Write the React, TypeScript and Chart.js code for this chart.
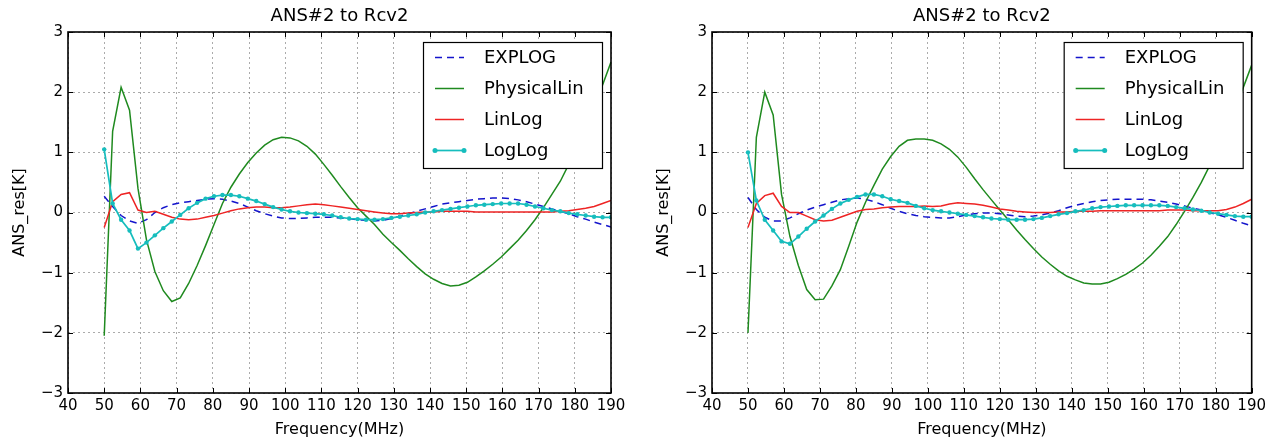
import React, { useEffect, useRef } from "react";
import { Chart, registerables } from "chart.js";

Chart.register(...registerables);

const TITLE = "ANS#2 to Rcv2";
const X_LABEL = "Frequency(MHz)";
const Y_LABEL = "ANS_res[K]";
const SERIES_NAMES = ["EXPLOG", "PhysicalLin", "LinLog", "LogLog"];

const FREQ = [
  50, 52.33, 54.67, 57, 59.33, 61.67, 64, 66.33, 68.67, 71, 73.33, 75.67, 78, 80.33, 82.67, 85, 87.33, 89.67, 92, 94.33,
  96.67, 99, 101.33, 103.67, 106, 108.33, 110.67, 113, 115.33, 117.67, 120, 122.33, 124.67, 127, 129.33, 131.67, 134,
  136.33, 138.67, 141, 143.33, 145.67, 148, 150.33, 152.67, 155, 157.33, 159.67, 162, 164.33, 166.67, 169, 171.33,
  173.67, 176, 178.33, 180.67, 183, 185.33, 187.67, 190,
];

// Left panel
const L_EXPLOG = [
  0.27, 0.1, -0.05, -0.14, -0.18, -0.12, 0.0, 0.08, 0.13, 0.16, 0.18, 0.2, 0.22, 0.23, 0.22, 0.19, 0.15, 0.09, 0.03,
  -0.02, -0.06, -0.09, -0.1, -0.1, -0.09, -0.08, -0.08, -0.08, -0.09, -0.1, -0.12, -0.13, -0.14, -0.13, -0.1, -0.06,
  -0.02, 0.02, 0.06, 0.1, 0.14, 0.16, 0.18, 0.2, 0.22, 0.23, 0.24, 0.24, 0.23, 0.21, 0.18, 0.14, 0.1, 0.06, 0.02,
  -0.02, -0.07, -0.11, -0.16, -0.2, -0.24,
];
const L_PHYSLIN = [
  -2.05, 1.35, 2.08, 1.7, 0.4, -0.45, -0.98, -1.3, -1.48, -1.42, -1.18, -0.88, -0.55, -0.2, 0.15, 0.42, 0.64, 0.83,
  0.99, 1.12, 1.21, 1.25, 1.24, 1.19, 1.1, 0.97, 0.8, 0.62, 0.43, 0.25, 0.08, -0.06, -0.2, -0.36, -0.5, -0.63, -0.77,
  -0.9, -1.02, -1.11, -1.18, -1.22, -1.21, -1.16, -1.07, -0.97, -0.86, -0.74, -0.6, -0.46, -0.3, -0.12, 0.08, 0.3,
  0.52, 0.8, 1.1, 1.42, 1.75, 2.12, 2.5,
];
const L_LINLOG = [
  -0.25, 0.18, 0.3, 0.33, 0.04, 0.0, 0.02, -0.03, -0.08, -0.11, -0.12, -0.11, -0.08, -0.05, -0.01, 0.03, 0.06, 0.08,
  0.09, 0.09, 0.08, 0.08, 0.09, 0.11, 0.13, 0.14, 0.13, 0.11, 0.09, 0.07, 0.05, 0.03, 0.01, -0.01, -0.02, -0.02,
  -0.01, 0.0, 0.01, 0.01, 0.02, 0.02, 0.02, 0.02, 0.01, 0.01, 0.01, 0.01, 0.01, 0.01, 0.01, 0.01, 0.01, 0.01, 0.02,
  0.03, 0.05, 0.07, 0.1, 0.15, 0.2,
];
const L_LOGLOG = [
  1.05, 0.15, -0.12, -0.3, -0.6, -0.5, -0.38, -0.26, -0.15, -0.04, 0.07, 0.16, 0.23, 0.27, 0.29, 0.29, 0.27, 0.23,
  0.19, 0.14, 0.09, 0.05, 0.02, 0.0, -0.01, -0.02, -0.03, -0.05, -0.08, -0.1, -0.11, -0.12, -0.12, -0.11, -0.09,
  -0.07, -0.05, -0.03, 0.0, 0.02, 0.04, 0.06, 0.08, 0.1, 0.12, 0.13, 0.14, 0.15, 0.15, 0.15, 0.13, 0.1, 0.07, 0.04,
  0.02, -0.01, -0.03, -0.05, -0.07, -0.08, -0.08,
];

// Right panel
const R_EXPLOG = [
  0.25, 0.05, -0.08, -0.14, -0.14, -0.09, -0.02, 0.04, 0.09, 0.13, 0.17, 0.21, 0.23, 0.24, 0.22, 0.18, 0.13, 0.07,
  0.02, -0.02, -0.05, -0.07, -0.08, -0.09, -0.09, -0.07, -0.04, -0.02, -0.01, -0.01, -0.02, -0.04, -0.06, -0.07,
  -0.06, -0.04, -0.01, 0.03, 0.08, 0.12, 0.15, 0.18, 0.2, 0.21, 0.22, 0.22, 0.22, 0.22, 0.21, 0.19, 0.17, 0.14, 0.11,
  0.07, 0.04, 0.0, -0.04, -0.08, -0.13, -0.18, -0.22,
];
const R_PHYSLIN = [
  -2.0, 1.25, 2.0, 1.62, 0.3, -0.4, -0.88, -1.28, -1.45, -1.44, -1.22, -0.95, -0.56, -0.16, 0.17, 0.45, 0.72, 0.93,
  1.1, 1.2, 1.22, 1.22, 1.2, 1.14, 1.05, 0.92, 0.75, 0.56, 0.38, 0.21, 0.04, -0.12, -0.29, -0.45, -0.6, -0.74, -0.86,
  -0.97, -1.06, -1.12, -1.17, -1.19, -1.19, -1.16, -1.1, -1.03, -0.94, -0.84, -0.71, -0.56, -0.4, -0.2, 0.02, 0.25,
  0.5, 0.78, 1.07, 1.38, 1.72, 2.08, 2.45,
];
const R_LINLOG = [
  -0.25, 0.15, 0.28, 0.32, 0.1, 0.0, 0.0, -0.06, -0.12, -0.14, -0.13, -0.08, -0.03, 0.02, 0.05, 0.06, 0.08, 0.09, 0.1,
  0.1, 0.1, 0.11, 0.1, 0.11, 0.14, 0.16, 0.15, 0.14, 0.12, 0.09, 0.06, 0.04, 0.02, 0.01, 0.0, 0.0, 0.0, 0.01, 0.01,
  0.02, 0.02, 0.02, 0.03, 0.03, 0.03, 0.03, 0.03, 0.03, 0.03, 0.03, 0.04, 0.04, 0.04, 0.03, 0.03, 0.03, 0.03, 0.05,
  0.09, 0.15, 0.22,
];
const R_LOGLOG = [
  1.0, 0.2, -0.12, -0.3, -0.48, -0.52, -0.4, -0.27, -0.15, -0.05, 0.06, 0.15, 0.21, 0.26, 0.3, 0.3, 0.27, 0.22, 0.19,
  0.16, 0.11, 0.07, 0.04, 0.02, 0.0, -0.02, -0.04, -0.06, -0.08, -0.1, -0.11, -0.12, -0.12, -0.12, -0.11, -0.09,
  -0.06, -0.03, -0.01, 0.02, 0.04, 0.07, 0.09, 0.1, 0.11, 0.12, 0.12, 0.12, 0.12, 0.12, 0.11, 0.09, 0.07, 0.05, 0.03,
  0.0, -0.02, -0.04, -0.06, -0.07, -0.07,
];

const X_TICKS = [40, 50, 60, 70, 80, 90, 100, 110, 120, 130, 140, 150, 160, 170, 180, 190];
const Y_TICKS = [-3, -2, -1, 0, 1, 2, 3];

const FONT = "'DejaVu Sans', sans-serif";

const framePlugin = {
  id: "mplFrame",
  afterDatasetsDraw(chart: any) {
    const ctx = chart.ctx;
    const { left, right, top, bottom } = chart.chartArea;
    const xs = chart.scales.x;
    const ys = chart.scales.y;
    ctx.save();
    // inward tick marks
    ctx.strokeStyle = "#000";
    ctx.lineWidth = 1;
    ctx.setLineDash([]);
    ctx.beginPath();
    X_TICKS.forEach((t) => {
      const px = Math.round(xs.getPixelForValue(t)) + 0.5;
      ctx.moveTo(px, bottom);
      ctx.lineTo(px, bottom - 5);
      ctx.moveTo(px, top);
      ctx.lineTo(px, top + 5);
    });
    Y_TICKS.forEach((t) => {
      const py = Math.round(ys.getPixelForValue(t)) + 0.5;
      ctx.moveTo(left, py);
      ctx.lineTo(left + 5, py);
      ctx.moveTo(right, py);
      ctx.lineTo(right - 5, py);
    });
    ctx.stroke();
    // frame
    ctx.lineWidth = 1.6;
    ctx.strokeRect(left, top, right - left, bottom - top);

    // legend
    const bw = 179;
    const bh = 126;
    const bx = right - 9 - bw;
    const by = top + 10;
    ctx.fillStyle = "#fff";
    ctx.fillRect(bx, by, bw, bh);
    ctx.lineWidth = 1.2;
    ctx.strokeStyle = "#000";
    ctx.strokeRect(bx + 0.5, by + 0.5, bw, bh);
    ctx.font = `18px ${FONT}`;
    ctx.textBaseline = "middle";
    ctx.textAlign = "left";
    chart.data.datasets.forEach((ds: any, k: number) => {
      const y = by + 15.5 + k * 31;
      ctx.strokeStyle = ds.borderColor;
      ctx.lineWidth = ds.borderWidth;
      ctx.setLineDash(ds.borderDash || []);
      ctx.beginPath();
      ctx.moveTo(bx + 12, y);
      ctx.lineTo(bx + 41, y);
      ctx.stroke();
      ctx.setLineDash([]);
      if (ds.pointRadius > 0) {
        ctx.fillStyle = ds.pointBackgroundColor;
        [bx + 12, bx + 41].forEach((px) => {
          ctx.beginPath();
          ctx.arc(px, y, ds.pointRadius + 0.3, 0, Math.PI * 2);
          ctx.fill();
        });
      }
      ctx.fillStyle = "#000";
      ctx.fillText(ds.label, bx + 61, y + 1);
    });
    ctx.restore();
  },
};

function makeDatasets(ex: number[], ph: number[], ll: number[], lg: number[]) {
  const pts = (arr: number[]) => FREQ.map((f, i) => ({ x: f, y: arr[i] }));
  return [
    {
      label: SERIES_NAMES[0],
      data: pts(ex),
      borderColor: "#1414cc",
      borderWidth: 1.5,
      borderDash: [7, 5],
      pointRadius: 0,
      tension: 0,
      order: 3,
    },
    {
      label: SERIES_NAMES[1],
      data: pts(ph),
      borderColor: "#1f8a1f",
      borderWidth: 1.5,
      pointRadius: 0,
      tension: 0,
      order: 2,
    },
    {
      label: SERIES_NAMES[2],
      data: pts(ll),
      borderColor: "#ee2424",
      borderWidth: 1.5,
      pointRadius: 0,
      tension: 0,
      order: 1,
    },
    {
      label: SERIES_NAMES[3],
      data: pts(lg),
      borderColor: "#16bdbd",
      borderWidth: 1.7,
      pointRadius: 2.2,
      pointBackgroundColor: "#16bdbd",
      pointBorderWidth: 0,
      tension: 0,
      order: 0,
    },
  ];
}

function Panel({ ex, ph, ll, lg, padRight }: { ex: number[]; ph: number[]; ll: number[]; lg: number[]; padRight: number }) {
  const ref = useRef<HTMLCanvasElement | null>(null);
  useEffect(() => {
    if (!ref.current) return;
    const gridCfg = {
      color: "rgba(0,0,0,0.33)",
      lineWidth: 1,
      drawTicks: false,
    };
    const chart = new Chart(ref.current, {
      type: "line",
      data: { datasets: makeDatasets(ex, ph, ll, lg) as any },
      options: {
        animation: false,
        responsive: false,
        devicePixelRatio: 1,
        layout: { padding: { left: 0, right: padRight, top: 0, bottom: 0 } },
        plugins: {
          legend: { display: false },
          tooltip: { enabled: false },
          title: {
            display: true,
            text: TITLE,
            color: "#000",
            fullSize: false,
            font: { family: FONT, size: 18, weight: "normal" },
            padding: { top: 6, bottom: 4.4 },
          },
        },
        scales: {
          x: {
            type: "linear",
            min: 40,
            max: 190,
            afterFit: (s: any) => {
              s.height = 49;
            },
            afterBuildTicks: (s: any) => {
              s.ticks = X_TICKS.map((v) => ({ value: v }));
            },
            ticks: {
              color: "#000",
              font: { family: FONT, size: 15 },
              padding: 4,
              autoSkip: false,
              maxRotation: 0,
            },
            grid: gridCfg as any,
            border: { display: false, dash: [2, 3] },
            title: {
              display: true,
              text: X_LABEL,
              color: "#000",
              font: { family: FONT, size: 16 },
              padding: { top: 0, bottom: 3 },
            },
          },
          y: {
            type: "linear",
            min: -3,
            max: 3,
            afterFit: (s: any) => {
              s.width = 68;
            },
            afterBuildTicks: (s: any) => {
              s.ticks = Y_TICKS.map((v) => ({ value: v }));
            },
            ticks: {
              color: "#000",
              font: { family: FONT, size: 15 },
              padding: 5,
              callback: (v: any) => (Number(v) < 0 ? "\u2212" + Math.abs(Number(v)) : String(v)),
            },
            grid: gridCfg as any,
            border: { display: false, dash: [2, 3] },
            title: {
              display: true,
              text: Y_LABEL,
              color: "#000",
              font: { family: FONT, size: 16 },
              padding: { top: 10, bottom: 0 },
            },
          },
        },
      },
      plugins: [framePlugin],
    });
    return () => chart.destroy();
  }, []);
  return <canvas ref={ref} width={padRight === 24 ? 635 : 626} height={442} />;
}

export default function App() {
  return (
    <div style={{ position: "fixed", left: 0, top: 0, width: 1270, height: 442, background: "#fff" }}>
      <div style={{ position: "absolute", left: 0, top: 0 }}>
        <Panel ex={L_EXPLOG} ph={L_PHYSLIN} ll={L_LINLOG} lg={L_LOGLOG} padRight={24} />
      </div>
      <div style={{ position: "absolute", left: 644, top: 0 }}>
        <Panel ex={R_EXPLOG} ph={R_PHYSLIN} ll={R_LINLOG} lg={R_LOGLOG} padRight={18} />
      </div>
    </div>
  );
}
